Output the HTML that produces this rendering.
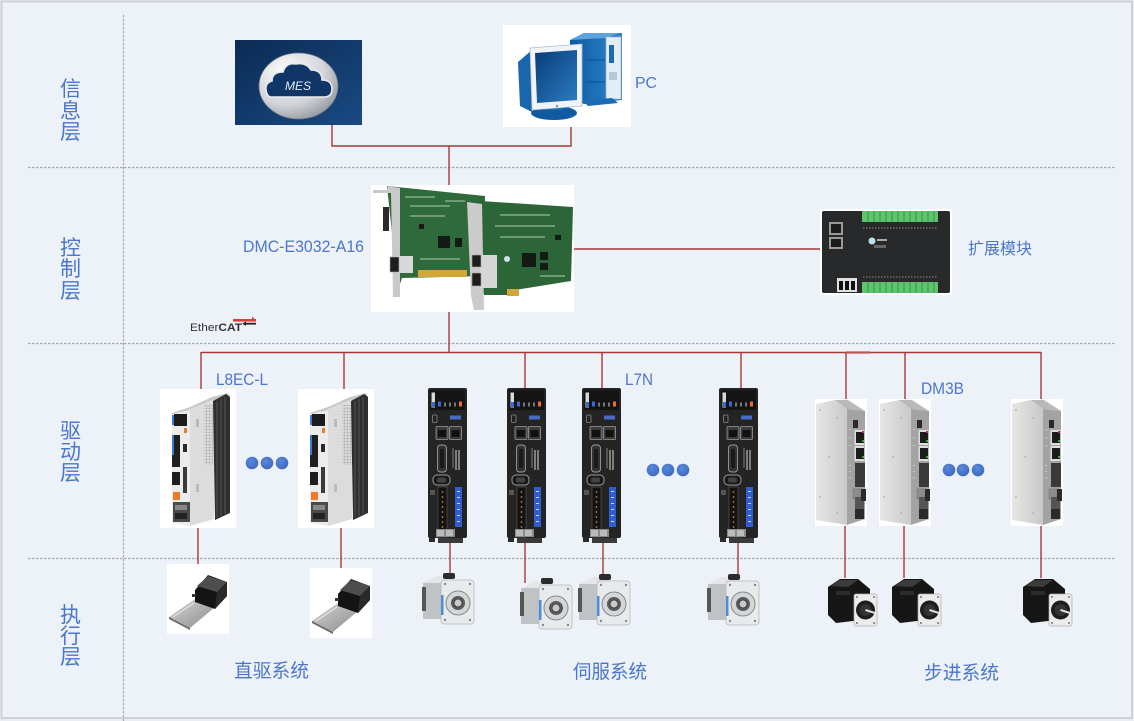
<!DOCTYPE html>
<html>
<head>
<meta charset="utf-8">
<style>
  html,body{margin:0;padding:0;background:#edf2f9;}
  svg{display:block;}
  text{font-family:"Liberation Sans","Noto Sans CJK SC",sans-serif;}
</style>
</head>
<body>
<svg width="1134" height="721" viewBox="0 0 1134 721" xmlns="http://www.w3.org/2000/svg">
  <defs>
    <linearGradient id="navy" x1="0" y1="0" x2="1" y2="1">
      <stop offset="0" stop-color="#0c2b55"/>
      <stop offset="1" stop-color="#184a82"/>
    </linearGradient>
    <radialGradient id="silver" cx="0.35" cy="0.3" r="0.8">
      <stop offset="0" stop-color="#ffffff"/>
      <stop offset="0.6" stop-color="#d2d4d8"/>
      <stop offset="1" stop-color="#8e939a"/>
    </radialGradient>
    <linearGradient id="screen" x1="0" y1="0" x2="1" y2="1">
      <stop offset="0" stop-color="#0a3c78"/>
      <stop offset="1" stop-color="#2a7cc2"/>
    </linearGradient>
    <linearGradient id="blueBody" x1="0" y1="0" x2="1" y2="0">
      <stop offset="0" stop-color="#0d5aa2"/>
      <stop offset="1" stop-color="#2f86cc"/>
    </linearGradient>
    <linearGradient id="alu" x1="0" y1="0" x2="1" y2="0">
      <stop offset="0" stop-color="#e6e6e6"/>
      <stop offset="1" stop-color="#c9c9c9"/>
    </linearGradient>
    <linearGradient id="plate" x1="0" y1="0" x2="1" y2="1">
      <stop offset="0" stop-color="#d6d6d6"/>
      <stop offset="1" stop-color="#8a8a8a"/>
    </linearGradient>
    <radialGradient id="dot" cx="0.4" cy="0.35" r="0.7">
      <stop offset="0" stop-color="#5a88dc"/>
      <stop offset="1" stop-color="#3d68bf"/>
    </radialGradient>
    <pattern id="honey" width="3" height="3" patternUnits="userSpaceOnUse">
      <rect width="3" height="3" fill="#d9d9d9"/>
      <circle cx="1.5" cy="1.5" r="0.9" fill="#a9a9a9"/>
    </pattern>

    <!-- L8EC driver -->
    <g id="l8ec">
      <rect x="0" y="0" width="76" height="139" fill="#ffffff"/>
      <polygon points="12,24 30,18 52,8 68,4 70,8 54,12 30,22 12,26" fill="#c8c8c8"/>
      <polygon points="30,20 54,10 54,130 30,137" fill="#dcdcdc"/>
      <rect x="44" y="16" width="9" height="60" fill="url(#honey)"/>
      <rect x="36" y="30" width="3" height="8" fill="#bbb"/>
      <rect x="36" y="95" width="3" height="8" fill="#bbb"/>
      <polygon points="53,12 66,5 70,8 70,124 55,131" fill="#2f2f2f"/>
      <line x1="57" y1="12" x2="57" y2="128" stroke="#555" stroke-width="1"/>
      <line x1="61" y1="10" x2="61" y2="127" stroke="#555" stroke-width="1"/>
      <line x1="65" y1="8" x2="65" y2="125" stroke="#555" stroke-width="1"/>
      <polygon points="12,25 30,21 30,137 12,134" fill="#ececec"/>
      <rect x="14" y="25" width="13" height="12" fill="#1c1c1c"/>
      <rect x="12" y="26" width="2" height="10" fill="#3a7ad0"/>
      <rect x="24" y="39" width="3" height="5" fill="#e87a2a"/>
      <rect x="12" y="46" width="8" height="32" fill="#202020"/>
      <rect x="12" y="46" width="2" height="20" fill="#3a7ad0"/>
      <rect x="23" y="55" width="4" height="8" fill="#2a2a2a"/>
      <rect x="23" y="78" width="4" height="26" fill="#3a3a3a"/>
      <rect x="12" y="83" width="8" height="13" fill="#1e1e1e"/>
      <rect x="13" y="103" width="7" height="8" fill="#f07a2a"/>
      <rect x="13" y="113" width="17" height="20" fill="#4a4a4a"/>
      <rect x="15" y="116" width="12" height="5" fill="#888"/>
      <rect x="15" y="124" width="12" height="6" fill="#222"/>
    </g>

    <!-- L7N driver -->
    <g id="l7n">
      <rect x="0" y="0" width="39" height="150" rx="2" fill="#242424"/>
      <rect x="2" y="2" width="35" height="20" fill="#141414"/>
      <rect x="3.5" y="4.5" width="3.5" height="15" fill="#d8d8d8"/>
      <rect x="4" y="14" width="3" height="5" fill="#3a6ad0"/>
      <rect x="10" y="13.5" width="3" height="5" fill="#3a6ad0"/>
      <rect x="16" y="14.5" width="2" height="4" fill="#777"/>
      <rect x="21" y="14.5" width="2" height="4" fill="#777"/>
      <rect x="26" y="14.5" width="2" height="4" fill="#777"/>
      <rect x="31" y="13.5" width="3" height="5" fill="#e8702a"/>
      <rect x="4.5" y="27" width="4.5" height="7.5" rx="1" fill="none" stroke="#888" stroke-width="0.8"/>
      <rect x="22" y="27.5" width="11" height="4" fill="#4a6ac8"/>
      <rect x="8" y="38.5" width="12" height="13" rx="1" fill="#3a3a3a" stroke="#9a9a9a" stroke-width="0.8"/>
      <rect x="21.5" y="38.5" width="12" height="13" rx="1" fill="#3a3a3a" stroke="#9a9a9a" stroke-width="0.8"/>
      <rect x="10" y="42" width="8" height="7" fill="#111"/>
      <rect x="23.5" y="42" width="8" height="7" fill="#111"/>
      <rect x="9.5" y="57" width="9" height="27" rx="3" fill="#333" stroke="#9a9a9a" stroke-width="0.9"/>
      <rect x="12" y="61" width="4" height="19" fill="#1a1a1a"/>
      <line x1="25" y1="60" x2="25" y2="80" stroke="#999" stroke-width="0.8"/>
      <line x1="28" y1="62" x2="28" y2="82" stroke="#bbb" stroke-width="1.2"/>
      <line x1="31" y1="62" x2="31" y2="82" stroke="#bbb" stroke-width="1.2"/>
      <rect x="5" y="87" width="17" height="10" rx="4" fill="#1a1a1a" stroke="#9a9a9a" stroke-width="1"/>
      <rect x="9" y="89.5" width="9" height="5" rx="2" fill="#444"/>
      <rect x="10" y="99" width="9" height="50" fill="#121212" stroke="#555" stroke-width="0.7"/>
      <g fill="#d77a2a">
        <circle cx="14.5" cy="104" r="0.9"/><circle cx="14.5" cy="109" r="0.9"/>
        <circle cx="14.5" cy="114" r="0.9"/><circle cx="14.5" cy="119" r="0.9"/>
        <circle cx="14.5" cy="124" r="0.9"/><circle cx="14.5" cy="129" r="0.9"/>
        <circle cx="14.5" cy="134" r="0.9"/><circle cx="14.5" cy="139" r="0.9"/>
      </g>
      <rect x="27" y="99" width="7" height="40" fill="#2f5fcf"/>
      <g fill="#cfd8f0">
        <rect x="29" y="103" width="3" height="1"/><rect x="29" y="109" width="3" height="1"/>
        <rect x="29" y="115" width="3" height="1"/><rect x="29" y="121" width="3" height="1"/>
        <rect x="29" y="127" width="3" height="1"/><rect x="29" y="133" width="3" height="1"/>
      </g>
      <rect x="2" y="102" width="5" height="5" fill="#555"/>
      <rect x="8" y="141" width="19" height="8" fill="#8a8a8a"/>
      <rect x="9" y="142" width="7" height="6" fill="#bbb"/>
      <rect x="18" y="142" width="7" height="6" fill="#bbb"/>
      <rect x="10" y="150" width="25" height="5" fill="#3a3a3a"/>
      <rect x="1" y="150" width="6" height="4" fill="#2a2a2a"/>
    </g>

    <!-- DM3B stepper driver -->
    <g id="dm3b">
      <rect x="0" y="0" width="52" height="127" fill="#ffffff"/>
      <polygon points="1,5 20,1 32,10 32,126 1,121" fill="url(#alu)"/>
      <polygon points="20,1 33,1 50,12 32,10" fill="#b9b9b9"/>
      <polygon points="32,10 50,12 50,120 32,126" fill="#a3a3a3"/>
      <g fill="#c4a878">
        <circle cx="5" cy="11" r="0.9"/><circle cx="22" cy="19" r="0.9"/>
        <circle cx="14" cy="58" r="0.9"/><circle cx="5" cy="98" r="0.9"/>
        <circle cx="22" cy="114" r="0.9"/>
      </g>
      <rect x="38" y="21" width="5" height="8" fill="#2a2a2a"/>
      <rect x="39.5" y="31" width="10" height="15" fill="#dcdcdc"/>
      <rect x="41" y="33" width="8" height="11" fill="#1c1c1c"/>
      <rect x="39.5" y="47" width="10" height="15" fill="#dcdcdc"/>
      <rect x="41" y="49" width="8" height="11" fill="#1c1c1c"/>
      <rect x="47" y="32" width="2" height="2" fill="#c33"/>
      <rect x="47" y="41" width="2" height="2" fill="#3a3"/>
      <rect x="47" y="57" width="2" height="2" fill="#3a3"/>
      <rect x="40" y="64" width="10" height="24" fill="#3a3a3a"/>
      <rect x="38" y="90" width="8" height="10" fill="#8c8c8c" stroke="#777" stroke-width="0.6"/>
      <rect x="40" y="98" width="9" height="12" fill="#555"/>
      <rect x="46" y="90" width="5" height="12" fill="#2a2a2a"/>
      <rect x="40" y="110" width="9" height="10" fill="#2a2a2a"/>
      <g fill="#c8c8c8">
        <rect x="34" y="30" width="2" height="1"/><rect x="34" y="38" width="2" height="1"/>
        <rect x="34" y="46" width="2" height="1"/><rect x="34" y="66" width="2" height="1"/>
        <rect x="34" y="72" width="2" height="1"/><rect x="34" y="78" width="2" height="1"/>
      </g>
    </g>

    <!-- Actuator -->
    <g id="act">
      <rect x="0" y="0" width="62" height="70" fill="#ffffff"/>
      <polygon points="2,53 28,35 48,43 23,64" fill="url(#plate)"/>
      <polygon points="2,53 23,64 23,66 2,55" fill="#666"/>
      <line x1="6" y1="53" x2="27" y2="39" stroke="#f0f0f0" stroke-width="1"/>
      <polygon points="28,26 41,11 60,18 60,32 48,45 28,38" fill="#141414"/>
      <polygon points="30,22 41,12 60,18 50,28" fill="#4e4e4e"/>
      <polygon points="50,28 60,18 60,32 48,45" fill="#2a2a2a"/>
      <rect x="25" y="30" width="4" height="3" fill="#333"/>
    </g>

    <!-- Servo motor -->
    <g id="servo">
      <polygon points="2,10 14,3 36,3 26,10" fill="#e4e6e8"/>
      <rect x="1" y="10" width="20" height="36" fill="#bfc3c6"/>
      <rect x="21" y="0" width="12" height="6" rx="2" fill="#2c2c2c"/>
      <rect x="19" y="7" width="33" height="44" rx="3" fill="#e8eaec" stroke="#b6b8ba" stroke-width="0.8"/>
      <rect x="19" y="22" width="2.5" height="20" fill="#4a90d9"/>
      <circle cx="36" cy="30" r="12" fill="#d4d7da" stroke="#888" stroke-width="1"/>
      <circle cx="36" cy="30" r="7" fill="#5a5a5a"/>
      <circle cx="36" cy="30" r="4" fill="#c8c8c8" stroke="#333" stroke-width="0.8"/>
      <circle cx="23" cy="11" r="1.2" fill="#888"/><circle cx="48" cy="11" r="1.2" fill="#888"/>
      <circle cx="23" cy="47" r="1.2" fill="#888"/><circle cx="48" cy="47" r="1.2" fill="#888"/>
      <rect x="0" y="14" width="4" height="24" fill="#555"/>
    </g>

    <!-- Stepper motor -->
    <g id="step">
      <polygon points="0,10 12,2 30,2 42,12 42,42 8,46 0,38" fill="#161616"/>
      <polygon points="2,9 12,3 30,3 20,10" fill="#3c3c3c"/>
      <rect x="8" y="14" width="14" height="4" fill="#2c2c2c"/>
      <rect x="26" y="17" width="23" height="32" rx="2" fill="#ececec" stroke="#aaa" stroke-width="0.7"/>
      <circle cx="37.5" cy="33" r="9.5" fill="#1e1e1e"/>
      <circle cx="37.5" cy="33" r="6" fill="#333"/>
      <line x1="37.5" y1="33" x2="47" y2="36" stroke="#ddd" stroke-width="2"/>
      <circle cx="29" cy="20" r="1" fill="#777"/><circle cx="46" cy="20" r="1" fill="#777"/>
      <circle cx="29" cy="46" r="1" fill="#777"/><circle cx="46" cy="46" r="1" fill="#777"/>
    </g>
  </defs>

  <!-- frame -->
  <rect x="0" y="0" width="1134" height="721" fill="#e9ecf1"/>
  <rect x="1.5" y="1.5" width="1130.5" height="716.5" fill="#edf2f9" stroke="#cfd1d4" stroke-width="2"/>

  <!-- dashed grid -->
  <g stroke="#a4a7ab" stroke-width="1.2" stroke-dasharray="2.5,1.5" fill="none">
    <line x1="28" y1="167.5" x2="1115" y2="167.5"/>
    <line x1="28" y1="343.5" x2="1115" y2="343.5"/>
    <line x1="28" y1="558.5" x2="1115" y2="558.5"/>
    <line x1="123.5" y1="15" x2="123.5" y2="721"/>
  </g>

  <!-- layer labels -->
  <g fill="#4a76cc" font-size="21" text-anchor="middle">
    <text x="70.5" y="96">信</text><text x="70.5" y="118">息</text><text x="70.5" y="139">层</text>
    <text x="70.5" y="255">控</text><text x="70.5" y="276">制</text><text x="70.5" y="298">层</text>
    <text x="70.5" y="438">驱</text><text x="70.5" y="459">动</text><text x="70.5" y="480">层</text>
    <text x="70.5" y="622">执</text><text x="70.5" y="643">行</text><text x="70.5" y="664">层</text>
  </g>

  <!-- connectors -->
  <g stroke="#a8383a" stroke-width="1.4" fill="none">
    <polyline points="332,125 332,146 571,146 571,127"/>
    <line x1="449" y1="146" x2="449" y2="185"/>
    <line x1="574" y1="249" x2="820" y2="249"/>
    <line x1="449" y1="312" x2="449" y2="352"/>
    <line x1="201" y1="352.5" x2="1041" y2="352.5"/>
    <line x1="201" y1="352" x2="201" y2="389"/>
    <line x1="344" y1="352" x2="344" y2="389"/>
    <line x1="525" y1="352" x2="525" y2="388"/>
    <line x1="602" y1="352" x2="602" y2="388"/>
    <line x1="741" y1="352" x2="741" y2="388"/>
    <line x1="846" y1="352" x2="846" y2="399"/>
    <line x1="905" y1="352" x2="905" y2="399"/>
    <line x1="1041" y1="352" x2="1041" y2="399"/>
    <line x1="198" y1="528" x2="198" y2="564"/>
    <line x1="341" y1="528" x2="341" y2="568"/>
    <line x1="450" y1="543" x2="450" y2="575"/>
    <line x1="525" y1="543" x2="525" y2="583"/>
    <line x1="603" y1="543" x2="603" y2="575"/>
    <line x1="738" y1="543" x2="738" y2="575"/>
    <line x1="845" y1="526" x2="845" y2="578"/>
    <line x1="904" y1="526" x2="904" y2="578"/>
    <line x1="1041" y1="526" x2="1041" y2="578"/>
  </g>
  <line x1="846" y1="352.5" x2="870" y2="352.5" stroke="#b85858" stroke-width="2.2"/>

  <!-- MES -->
  <rect x="235" y="40" width="127" height="85" fill="url(#navy)"/>
  <ellipse cx="298.5" cy="86" rx="39.5" ry="33" fill="url(#silver)" stroke="#6d7888" stroke-width="0.8"/>
  <path d="M271,97 L324,97 Q332,97 332,89 Q332,80 322,80 Q322,70 311,70 Q306,62 296,64 Q286,62 283,72 Q272,72 272,81 Q265,83 266,90 Q267,97 271,97 Z" fill="#103668" stroke="#e8eaee" stroke-width="1.6"/>
  <text x="298" y="90" font-size="12" font-style="italic" fill="#e6ecf5" text-anchor="middle">MES</text>

  <!-- PC -->
  <rect x="503" y="25" width="128" height="102" fill="#ffffff"/>
  <polygon points="570,40 584,33 622,33 622,100 584,104 570,98" fill="url(#blueBody)"/>
  <polygon points="570,40 584,33 620,33 606,38" fill="#5da3dc"/>
  <rect x="606" y="37" width="15" height="62" fill="#e4ecf4" stroke="#9cb8d4" stroke-width="0.6"/>
  <rect x="609" y="45" width="5" height="18" fill="#1b6cb4"/>
  <rect x="609" y="72" width="8" height="8" fill="#b5c8da"/>
  <line x1="586" y1="60" x2="605" y2="60" stroke="#0c4f8c" stroke-width="1"/>
  <line x1="586" y1="82" x2="605" y2="82" stroke="#0c4f8c" stroke-width="1"/>
  <polygon points="582,100 612,98 618,103 588,106" fill="#1a6cb4"/>
  <polygon points="518,62 532,50 532,112 520,106" fill="#1a66ad"/>
  <ellipse cx="554" cy="113" rx="23" ry="7" fill="#0f5aa0"/>
  <rect x="545" y="104" width="18" height="6" fill="#1b6cb4"/>
  <polygon points="530,48 582,44 582,106 532,110" fill="#f0f4f8" stroke="#a8bccf" stroke-width="0.8"/>
  <polygon points="535,53 577,50 577,100 537,103" fill="url(#screen)"/>
  <circle cx="557" cy="106" r="1.2" fill="#7a94b0"/>
  <text x="635" y="88" font-size="16" fill="#4a76cc" textLength="22" lengthAdjust="spacingAndGlyphs">PC</text>

  <!-- Motion card -->
  <rect x="371" y="185" width="203" height="127" fill="#ffffff"/>
  <polygon points="387,186 485,196 484,276 402,278 398,290" fill="#2f6a3b"/>
  <rect x="418" y="270" width="49" height="7" fill="#d3a63a"/>
  <g fill="#141a14">
    <rect x="438" y="236" width="12" height="12"/>
    <rect x="455" y="238" width="7" height="9"/>
    <rect x="419" y="224" width="5" height="5"/>
  </g>
  <g fill="#6f9a72">
    <rect x="405" y="196" width="30" height="2"/><rect x="410" y="205" width="40" height="2"/>
    <rect x="410" y="215" width="35" height="2"/><rect x="420" y="258" width="40" height="2"/>
    <rect x="445" y="200" width="25" height="2"/>
  </g>
  <polygon points="373,190 387,190 388,186 400,188 400,297 393,297 391,193 373,193" fill="#c9c9c9"/>
  <rect x="383" y="207" width="6" height="24" fill="#2b2b2b"/>
  <rect x="397" y="256" width="16" height="17" fill="#d8d8d8"/>
  <rect x="390" y="257" width="9" height="15" fill="#1e1e1e" stroke="#aaa" stroke-width="0.6"/>
  <polygon points="465,200 573,207 571,281 515,290 510,295 484,295" fill="#2c6537"/>
  <rect x="507" y="289" width="12" height="7" fill="#d3a63a"/>
  <g fill="#141a14">
    <rect x="522" y="253" width="14" height="14"/>
    <rect x="540" y="252" width="8" height="8"/>
    <rect x="540" y="263" width="8" height="7"/>
    <rect x="555" y="235" width="6" height="5"/>
  </g>
  <g fill="#6f9a72">
    <rect x="500" y="214" width="50" height="2"/><rect x="495" y="225" width="60" height="2"/>
    <rect x="500" y="236" width="45" height="2"/><rect x="540" y="275" width="25" height="2"/>
  </g>
  <circle cx="507" cy="259" r="3" fill="#cfe0e8"/>
  <polygon points="467,202 482,204 484,310 474,310 471,296" fill="#cbcbcb"/>
  <rect x="480" y="255" width="17" height="33" fill="#d6d6d6"/>
  <rect x="472" y="255" width="9" height="12" fill="#1e1e1e" stroke="#aaa" stroke-width="0.6"/>
  <rect x="472" y="273" width="9" height="13" fill="#1e1e1e" stroke="#aaa" stroke-width="0.6"/>
  <text x="243" y="252" font-size="17" fill="#4a76cc" textLength="121" lengthAdjust="spacingAndGlyphs">DMC-E3032-A16</text>

  <!-- Expansion module -->
  <rect x="820" y="209" width="132" height="86" fill="#ffffff"/>
  <rect x="822" y="211" width="128" height="82" rx="2" fill="#28292b"/>
  <rect x="862" y="211" width="76" height="11" fill="#5dc46d"/>
  <rect x="862" y="282" width="76" height="11" fill="#5dc46d"/>
  <g stroke="#2f8a3e" stroke-width="0.8">
    <line x1="868" y1="211" x2="868" y2="222"/><line x1="874" y1="211" x2="874" y2="222"/>
    <line x1="880" y1="211" x2="880" y2="222"/><line x1="886" y1="211" x2="886" y2="222"/>
    <line x1="892" y1="211" x2="892" y2="222"/><line x1="898" y1="211" x2="898" y2="222"/>
    <line x1="904" y1="211" x2="904" y2="222"/><line x1="910" y1="211" x2="910" y2="222"/>
    <line x1="916" y1="211" x2="916" y2="222"/><line x1="922" y1="211" x2="922" y2="222"/>
    <line x1="928" y1="211" x2="928" y2="222"/><line x1="934" y1="211" x2="934" y2="222"/>
    <line x1="868" y1="282" x2="868" y2="293"/><line x1="874" y1="282" x2="874" y2="293"/>
    <line x1="880" y1="282" x2="880" y2="293"/><line x1="886" y1="282" x2="886" y2="293"/>
    <line x1="892" y1="282" x2="892" y2="293"/><line x1="898" y1="282" x2="898" y2="293"/>
    <line x1="904" y1="282" x2="904" y2="293"/><line x1="910" y1="282" x2="910" y2="293"/>
    <line x1="916" y1="282" x2="916" y2="293"/><line x1="922" y1="282" x2="922" y2="293"/>
    <line x1="928" y1="282" x2="928" y2="293"/><line x1="934" y1="282" x2="934" y2="293"/>
  </g>
  <line x1="863" y1="228" x2="937" y2="228" stroke="#6a6a6a" stroke-width="1.5" stroke-dasharray="1.5,1.5"/>
  <line x1="863" y1="277" x2="937" y2="277" stroke="#6a6a6a" stroke-width="1.5" stroke-dasharray="1.5,1.5"/>
  <rect x="829" y="222" width="14" height="13" fill="#9a9a9a"/>
  <rect x="831" y="224" width="10" height="9" fill="#1a1a1a"/>
  <rect x="829" y="237" width="14" height="12" fill="#9a9a9a"/>
  <rect x="831" y="239" width="10" height="8" fill="#1a1a1a"/>
  <circle cx="872" cy="241" r="3.5" fill="#bfe0e6"/>
  <rect x="877" y="239" width="10" height="2" fill="#aaa"/>
  <rect x="874" y="245" width="12" height="3" fill="#666"/>
  <rect x="837" y="278" width="20" height="14" fill="#e0e0e0"/>
  <rect x="839" y="281" width="4" height="9" fill="#111"/><rect x="845" y="281" width="4" height="9" fill="#111"/><rect x="851" y="281" width="4" height="9" fill="#111"/>
  <text x="968" y="254" font-size="16" fill="#4a76cc" textLength="64" lengthAdjust="spacingAndGlyphs">扩展模块</text>

  <!-- EtherCAT logo -->
  <text x="190" y="331" font-size="11" fill="#333" textLength="52" lengthAdjust="spacingAndGlyphs">Ether<tspan font-weight="bold">CAT</tspan></text>
  <rect x="233" y="319" width="23" height="2.6" fill="#e23a3a"/>
  <polygon points="252,316.5 256,320.3 252,321.5" fill="#e23a3a"/>
  <rect x="246" y="322.8" width="10" height="1.8" fill="#222"/>
  <polygon points="246,321.5 242,323.7 246,325.8" fill="#222"/>

  <!-- Drive layer -->
  <use href="#l8ec" x="160" y="389"/>
  <use href="#l8ec" x="298" y="389"/>
  <text x="216" y="385" font-size="17" fill="#4a76cc" textLength="52" lengthAdjust="spacingAndGlyphs">L8EC-L</text>
  <g fill="url(#dot)">
    <circle cx="252" cy="463" r="6.3"/><circle cx="267" cy="463" r="6.3"/><circle cx="282" cy="463" r="6.3"/>
    <circle cx="653" cy="470" r="6.3"/><circle cx="668" cy="470" r="6.3"/><circle cx="683" cy="470" r="6.3"/>
    <circle cx="949" cy="470" r="6.3"/><circle cx="963" cy="470" r="6.3"/><circle cx="978" cy="470" r="6.3"/>
  </g>
  <use href="#l7n" x="428" y="388"/>
  <use href="#l7n" x="507" y="388"/>
  <use href="#l7n" x="582" y="388"/>
  <use href="#l7n" x="719" y="388"/>
  <text x="625" y="385" font-size="17" fill="#4a76cc" textLength="28" lengthAdjust="spacingAndGlyphs">L7N</text>
  <use href="#dm3b" x="815" y="399"/>
  <use href="#dm3b" x="879" y="399"/>
  <use href="#dm3b" x="1011" y="399"/>
  <text x="921" y="394" font-size="17" fill="#4a76cc" textLength="43" lengthAdjust="spacingAndGlyphs">DM3B</text>

  <!-- Execution layer -->
  <use href="#act" x="167" y="564"/>
  <use href="#act" x="310" y="568"/>
  <use href="#servo" x="422" y="573"/>
  <use href="#servo" x="520" y="578"/>
  <use href="#servo" x="578" y="574"/>
  <use href="#servo" x="707" y="574"/>
  <use href="#step" x="828" y="577"/>
  <use href="#step" x="892" y="577"/>
  <use href="#step" x="1023" y="577"/>

  <g font-size="19" fill="#4a76cc">
    <text x="234" y="677" textLength="75" lengthAdjust="spacingAndGlyphs">直驱系统</text>
    <text x="573" y="678" textLength="74" lengthAdjust="spacingAndGlyphs">伺服系统</text>
    <text x="924" y="679" textLength="75" lengthAdjust="spacingAndGlyphs">步进系统</text>
  </g>
</svg>
</body>
</html>
